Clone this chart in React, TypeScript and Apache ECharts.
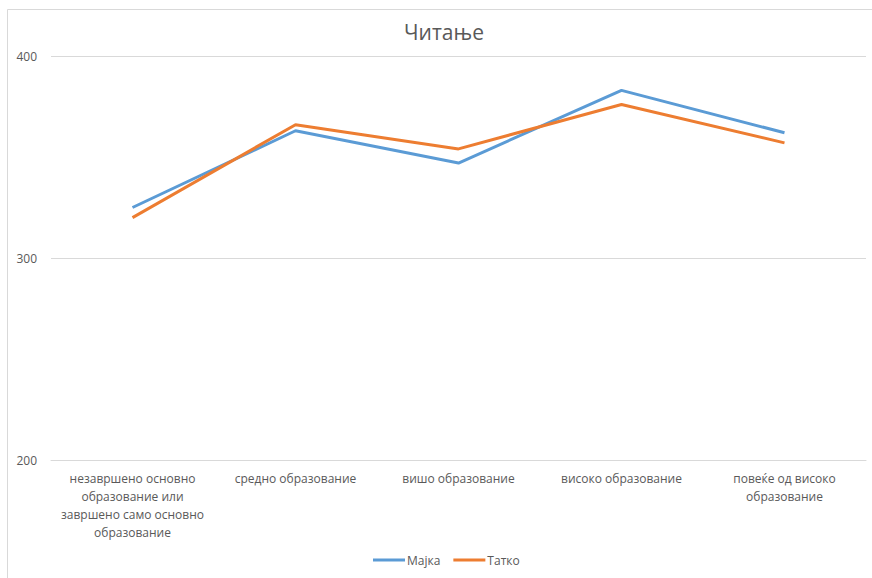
import React, { useEffect, useRef } from "react";
import * as echarts from "echarts";

const titleText = "Читање";
const categories = [
  "незавршено основно\nобразование или\nзавршено само основно\nобразование",
  "средно образование",
  "вишо образование",
  "високо образование",
  "повеќе од високо\nобразование",
];
const seriesNames = ["Мајка", "Татко"];
const majka = [325, 363, 347, 383, 362];
const tatko = [320, 366, 354, 376, 357];
const yMin = 200;
const yMax = 400;
const yInterval = 100;

export default function App() {
  const ref = useRef<HTMLDivElement>(null);
  useEffect(() => {
    if (!ref.current) return;
    const chart = echarts.init(ref.current, null, { renderer: "svg" });
    const font = "'Open Sans', sans-serif";
    chart.setOption({
      animation: false,
      backgroundColor: "#ffffff",
      graphic: [
        {
          type: "rect",
          shape: { x: 7.5, y: 9.5, width: 900, height: 600 },
          style: { fill: "none", stroke: "#d9d9d9", lineWidth: 1 },
          silent: true,
        },
      ],
      title: {
        text: titleText,
        left: 399,
        top: 16,
        textStyle: { fontFamily: font, fontSize: 21, fontWeight: "normal", color: "#595959" },
      },
      legend: {
        data: seriesNames,
        bottom: 7,
        left: 368,
        icon: "rect",
        itemWidth: 32,
        itemHeight: 3,
        itemGap: 13,
        textStyle: { fontFamily: font, fontSize: 12, color: "#595959", padding: [0, 0, 0, -3] },
      },
      grid: { left: 51, right: 6, top: 56, bottom: 118, containLabel: false },
      xAxis: {
        type: "category",
        data: categories,
        boundaryGap: true,
        axisLine: { show: true, lineStyle: { color: "#d9d9d9", width: 1 } },
        axisTick: { show: false },
        axisLabel: {
          interval: 0,
          margin: 9,
          fontFamily: font,
          fontSize: 12,
          color: "#595959",
          lineHeight: 18,
        },
      },
      yAxis: {
        type: "value",
        min: yMin,
        max: yMax,
        interval: yInterval,
        axisLine: { show: false },
        axisTick: { show: false },
        splitLine: { lineStyle: { color: "#d9d9d9", width: 1 } },
        axisLabel: { margin: 14, fontFamily: font, fontSize: 12, color: "#595959" },
      },
      series: [
        {
          name: seriesNames[0],
          type: "line",
          data: majka,
          symbol: "none",
          lineStyle: { color: "#5B9BD5", width: 3 },
          itemStyle: { color: "#5B9BD5" },
        },
        {
          name: seriesNames[1],
          type: "line",
          data: tatko,
          symbol: "none",
          lineStyle: { color: "#ED7D31", width: 3 },
          itemStyle: { color: "#ED7D31" },
        },
      ],
    });
    return () => chart.dispose();
  }, []);
  return (
    <div
      ref={ref}
      style={{ position: "fixed", left: 0, top: 0, width: 872, height: 578 }}
    />
  );
}
